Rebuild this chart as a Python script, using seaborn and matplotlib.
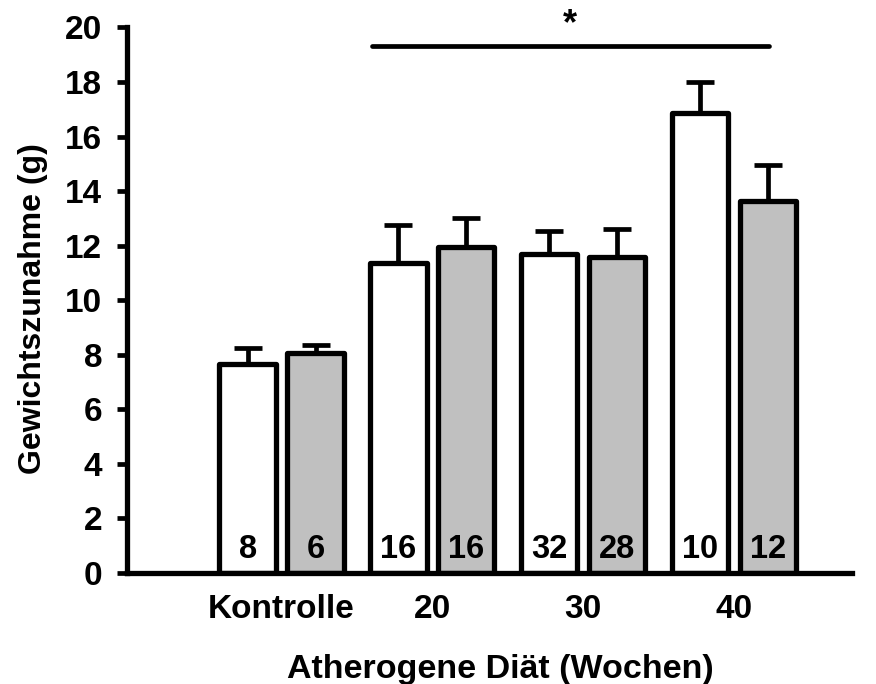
import matplotlib
matplotlib.use("Agg")
import matplotlib.pyplot as plt
import seaborn as sns
import pandas as pd
import numpy as np

# Gruppen und Messwerte
gruppen = ["Kontrolle", "20", "30", "40"]
serien = ["Serie 1", "Serie 2"]
mittel_1 = [7.65, 11.35, 11.70, 16.85]
mittel_2 = [8.05, 11.95, 11.60, 13.65]
sem_1 = [0.60, 1.40, 0.85, 1.15]
sem_2 = [0.30, 1.05, 1.00, 1.30]
n_1 = [8, 16, 32, 10]
n_2 = [6, 16, 28, 12]
y_ticks = [0, 2, 4, 6, 8, 10, 12, 14, 16, 18, 20]

df = pd.DataFrame({
    "Gruppe": gruppen * 2,
    "Serie": [serien[0]] * 4 + [serien[1]] * 4,
    "Wert": mittel_1 + mittel_2,
    "SEM": sem_1 + sem_2,
    "n": n_1 + n_2,
})

sns.set_style("ticks")
plt.rcParams["font.family"] = ["Liberation Sans", "DejaVu Sans"]
plt.rcParams["font.weight"] = "bold"
plt.rcParams["text.color"] = "black"
plt.rcParams["axes.labelcolor"] = "black"
plt.rcParams["xtick.color"] = "black"
plt.rcParams["ytick.color"] = "black"
plt.rcParams["axes.edgecolor"] = "black"

fig = plt.figure(figsize=(8.76, 6.84), dpi=100)
ax = fig.add_axes([0.145, 0.1623, 0.828, 0.7975])

sns.barplot(data=df, x="Gruppe", y="Wert", hue="Serie", order=gruppen,
            hue_order=serien, palette=["white", "#c0c0c0"], width=0.90,
            gap=0.17, edgecolor="black", linewidth=3.8, errorbar=None,
            legend=False, ax=ax, zorder=2)

# Balken nach Position sortieren und Fehlerbalken / n-Zahlen zuordnen
bars = sorted(ax.patches, key=lambda p: p.get_x())
errs = [e for pair in zip(sem_1, sem_2) for e in pair]
ns = [v for pair in zip(n_1, n_2) for v in pair]
for bar, err, n in zip(bars, errs, ns):
    bar.set_joinstyle("round")
    xc = bar.get_x() + bar.get_width() / 2
    h = bar.get_height()
    ax.errorbar(xc, h, yerr=[[0], [err]], fmt="none", ecolor="black",
                elinewidth=3.4, capsize=10, capthick=3.4, zorder=1)
    ax.text(xc, 0.30, str(n), ha="center", va="bottom", fontsize=23.5,
            fontweight="bold", color="black", zorder=3)

# Signifikanzlinie
ax.plot([0.60, 3.23], [19.32, 19.32], color="black", lw=3.4,
        solid_capstyle="round", clip_on=False)
ax.text(1.91, 19.45, "*", ha="center", va="bottom", fontsize=26,
        fontweight="bold", clip_on=False)

ax.set_xlim(-1.025, 3.785)
ax.set_ylim(0, 20)
ax.set_yticks(y_ticks)
ax.set_yticklabels([str(t) for t in y_ticks], fontsize=24, fontweight="bold")
ax.set_xticks(range(len(gruppen)))
ax.set_xticklabels(gruppen, fontsize=24, fontweight="bold")

ax.tick_params(axis="y", length=7, width=3.4, pad=11, direction="out")
ax.tick_params(axis="x", length=0, pad=15)

for side in ("top", "right"):
    ax.spines[side].set_visible(False)
for side in ("left", "bottom"):
    ax.spines[side].set_linewidth(3.8)
    ax.spines[side].set_capstyle("projecting")

ax.set_xlabel("Atherogene Diät (Wochen)", fontsize=24.5, fontweight="bold")
ax.xaxis.label.set_va("baseline")
ax.xaxis.set_label_coords(0.515, -0.1925)

ax.set_ylabel("Gewichtszunahme (g)", fontsize=23, fontweight="bold")
ax.yaxis.label.set_va("center")
ax.yaxis.set_label_coords(-0.129, 0.485)

fig.savefig("out.png", dpi=100, facecolor="white")
